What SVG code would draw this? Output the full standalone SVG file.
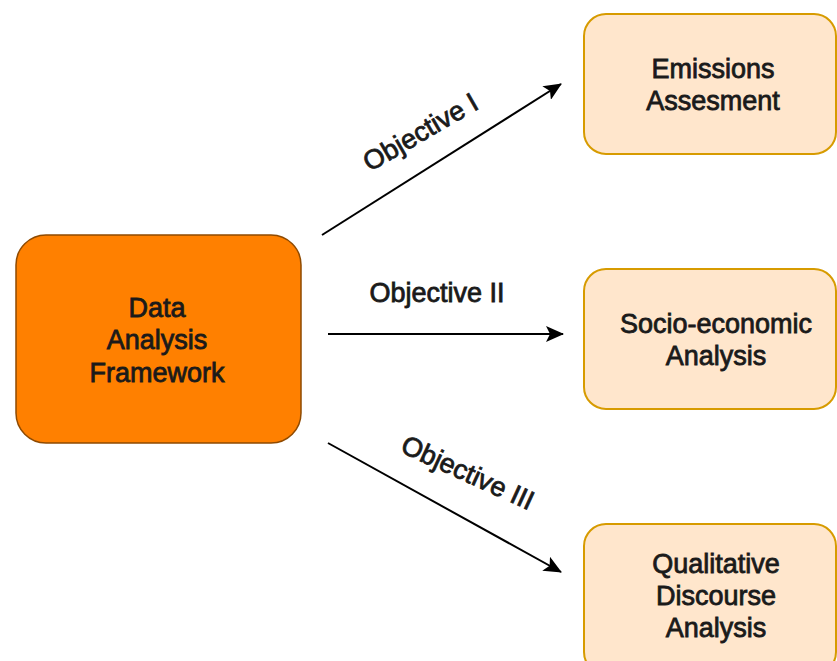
<svg xmlns="http://www.w3.org/2000/svg" width="837" height="661" viewBox="0 0 837 661">
<style>
.lbl{font-family:"Liberation Sans",Arial,sans-serif;font-size:27px;fill:#1a1a1a;stroke:#1a1a1a;stroke-width:0.8px;text-anchor:middle}
.main{fill:#FF8000;stroke:#8F4A00;stroke-width:1.5}
.sub{fill:#FFE6CC;stroke:#D79B00;stroke-width:2}
.conn{stroke:#000;stroke-width:2;fill:none;marker-end:url(#arr)}
</style>
<defs>
<marker id="arr" markerUnits="userSpaceOnUse" markerWidth="18" markerHeight="16" refX="17" refY="8" orient="auto">
<path d="M0,0 L18,8 L0,16 L4,8 Z" fill="#000"/>
</marker>
</defs>
<rect width="837" height="661" fill="#fff"/>
<g id="connectors">
<line class="conn" x1="322" y1="235" x2="561" y2="84"/>
<line class="conn" x1="328" y1="334" x2="563" y2="334"/>
<line class="conn" x1="328" y1="443" x2="561" y2="572"/>
<text class="lbl" transform="translate(425,140) rotate(-30)">Objective I</text>
<text class="lbl" x="437" y="302">Objective II</text>
<text class="lbl" transform="translate(464,481) rotate(24.5)">Objective III</text>
</g>
<g id="data-analysis-framework">
<rect class="main" x="16" y="235" width="285" height="208" rx="30"/>
<text class="lbl" x="157" y="317">Data</text>
<text class="lbl" x="157" y="349">Analysis</text>
<text class="lbl" x="157" y="382">Framework</text>
</g>
<g id="emissions-assesment">
<rect class="sub" x="584" y="14" width="252" height="140" rx="22"/>
<text class="lbl" x="713" y="78">Emissions</text>
<text class="lbl" x="713" y="110">Assesment</text>
</g>
<g id="socio-economic-analysis">
<rect class="sub" x="584" y="269" width="252" height="140" rx="22"/>
<text class="lbl" x="716" y="333">Socio-economic</text>
<text class="lbl" x="716" y="365">Analysis</text>
</g>
<g id="qualitative-discourse-analysis">
<rect class="sub" x="584" y="524" width="252" height="150" rx="22"/>
<text class="lbl" x="716" y="573">Qualitative</text>
<text class="lbl" x="716" y="605">Discourse</text>
<text class="lbl" x="716" y="637">Analysis</text>
</g>
</svg>
